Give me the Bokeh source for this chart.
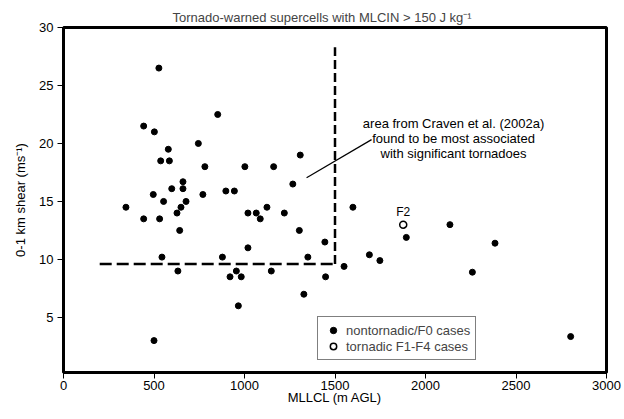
from bokeh.plotting import figure
from bokeh.models import Range1d, FixedTicker, Legend, LegendItem, Label
from bokeh.core.properties import value
from bokeh.embed import file_html
from bokeh.resources import INLINE

# ---- data ----
nontor_lcl = [527, 443, 502, 745, 579, 537, 585, 781, 660, 598, 660, 496, 770, 553, 677,
              345, 649, 852, 1002, 1161, 1308, 1267, 897, 944, 1124, 443, 531, 627, 642, 544,
              632, 500, 1019, 1065, 1087, 1220, 1303, 1444, 1019, 878, 1350, 955, 920, 982,
              1148, 1448, 1328, 966, 1599, 1894, 2135, 2384, 1690, 1748, 1550, 2259, 2802]
nontor_shear = [26.5, 21.5, 21.0, 20.0, 19.5, 18.5, 18.5, 18.0, 16.7, 16.1, 16.1, 15.6, 15.6,
                15.0, 15.0, 14.5, 14.5, 22.5, 18.0, 18.0, 19.0, 16.5, 15.9, 15.9, 14.5, 13.5,
                13.5, 14.0, 12.5, 10.2, 9.0, 3.0, 14.0, 14.0, 13.5, 14.0, 12.5, 11.5, 11.0,
                10.2, 10.2, 9.0, 8.5, 8.5, 9.0, 8.5, 7.0, 6.0, 14.5, 11.9, 13.0, 11.4, 10.4,
                9.9, 9.4, 8.9, 3.35]
tor_lcl = [1877]
tor_shear = [13.0]
tor_labels = ["F2"]

x_ticks = [0, 500, 1000, 1500, 2000, 2500, 3000]
y_ticks = [5, 10, 15, 20, 25, 30]

# Craven et al. (2002a) area boundary
craven_lcl_min = 200
craven_lcl_max = 1500
craven_shear_min = 9.6
craven_shear_top = 28.3

FONT = "Liberation Sans"

p = figure(width=624, height=419, output_backend="svg", toolbar_location=None,
           x_range=Range1d(0, 3000), y_range=Range1d(0.25, 30),
           min_border_left=63, min_border_right=18, min_border_top=27, min_border_bottom=47)

p.title.text = "Tornado-warned supercells with MLCIN > 150 J kg\u207b\u00b9"
p.title.text_font = FONT
p.title.text_font_size = "13px"
p.title.text_font_style = "normal"
p.title.align = "left"
p.title.offset = 109
p.title.standoff = 6

p.xgrid.visible = False
p.ygrid.visible = False
p.outline_line_color = "black"
p.outline_line_width = 3
p.outline_line_alpha = 1

for ax in (p.xaxis[0], p.yaxis[0]):
    ax.axis_line_color = None
    ax.major_tick_in = 0
    ax.major_tick_out = 6
    ax.major_tick_line_color = "black"
    ax.major_tick_line_width = 1
    ax.minor_tick_line_color = None
    ax.major_label_text_font = FONT
    ax.major_label_text_font_size = "13px"
    ax.major_label_text_color = "black"
    ax.axis_label_text_font = FONT
    ax.axis_label_text_font_size = "13px"
    ax.axis_label_text_font_style = "normal"
    ax.axis_label_text_color = "black"

p.xaxis.ticker = FixedTicker(ticks=x_ticks)
p.yaxis.ticker = FixedTicker(ticks=y_ticks)
p.xaxis.axis_label = "MLLCL (m AGL)"
p.yaxis.axis_label = "0-1 km shear (ms\u207b\u00b9)"
p.xaxis.major_label_standoff = 2
p.yaxis.major_label_standoff = 4
p.xaxis.axis_label_standoff = -3
p.yaxis.axis_label_standoff = 8

# dashed boundary
p.line([craven_lcl_min, craven_lcl_max], [craven_shear_min, craven_shear_min],
       line_color="black", line_width=2.5, line_dash="12 5")
p.line([craven_lcl_max, craven_lcl_max], [craven_shear_min, craven_shear_top],
       line_color="black", line_width=2.5, line_dash="9 4")

# annotation pointer
p.line([1343, 1702], [17.05, 20.33], line_color="black", line_width=1.2)

r1 = p.scatter(nontor_lcl, nontor_shear, size=6, marker="circle",
               fill_color="black", line_color="black")
r2 = p.scatter(tor_lcl, tor_shear, size=7, marker="circle",
               fill_color="white", line_color="black", line_width=1.5)

p.text(x=tor_lcl, y=tor_shear, text=tor_labels, y_offset=-13,
       text_font=value(FONT), text_font_size="12px", text_align="center",
       text_baseline="middle", text_color="black")

ann_lines = ["area from Craven et al. (2002a)",
             "found to be most associated",
             "with significant tornadoes"]
for i, t in enumerate(ann_lines):
    p.add_layout(Label(x=2155, y=21.75 - 1.31 * i, text=t, text_align="center",
                       text_baseline="middle", text_font=FONT, text_font_size="13px",
                       text_color="black"))

legend = Legend(items=[LegendItem(label="nontornadic/F0 cases", renderers=[r1]),
                       LegendItem(label="tornadic F1-F4 cases", renderers=[r2])],
                location=(254, 12), border_line_color="black", border_line_width=1.5,
                label_text_font=FONT, label_text_font_size="13px",
                padding=5, spacing=0, glyph_width=20, glyph_height=16,
                label_height=16, label_standoff=3, margin=0,
                background_fill_color="white", background_fill_alpha=1)
p.add_layout(legend)

open("out.html", "w").write(file_html(p, INLINE))
